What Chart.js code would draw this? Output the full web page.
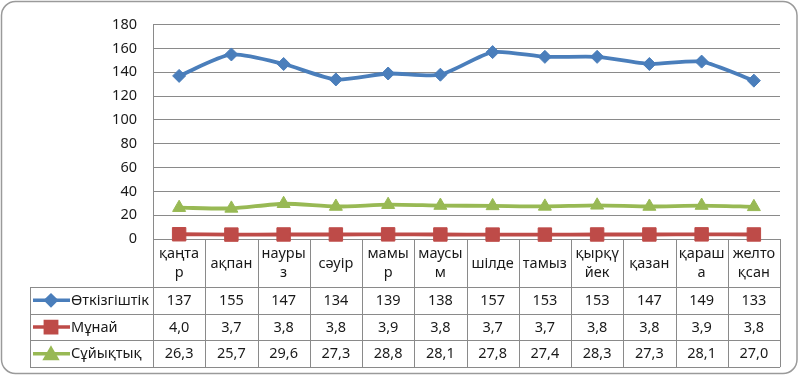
<!DOCTYPE html>
<html>
<head>
<meta charset="utf-8">
<script src="https://cdn.jsdelivr.net/npm/chart.js@4/dist/chart.umd.min.js"></script>
<style>
  html, body { margin: 0; padding: 0; background: #ffffff; }
  #wrap { width: 800px; height: 376px; position: relative; }
</style>
</head>
<body>
<div id="wrap"><canvas id="c" width="800" height="376"></canvas></div>
<script>
const categories = [['қаңта','р'], 'ақпан', ['науры','з'], 'сәуір', ['мамы','р'], ['маусы','м'], 'шілде', 'тамыз', ['қырқү','йек'], 'қазан', ['қараш','а'], ['желто','қсан']];
const seriesNames = ['Өткізгіштік', 'Мұнай', 'Сұйықтық'];
const conductivity = [137, 155, 147, 134, 139, 138, 157, 153, 153, 147, 149, 133];
const oil = [4.0, 3.7, 3.8, 3.8, 3.9, 3.8, 3.7, 3.7, 3.8, 3.8, 3.9, 3.8];
const liquid = [26.3, 25.7, 29.6, 27.3, 28.8, 28.1, 27.8, 27.4, 28.3, 27.3, 28.1, 27.0];
const yTicks = [0, 20, 40, 60, 80, 100, 120, 140, 160, 180];

const FONT = '"Noto Sans", "DejaVu Sans", sans-serif';
const GRID = '#8a8a8a';

function fmt(v, dec) { return dec ? v.toFixed(dec).replace('.', ',') : String(v); }

const tablePlugin = {
  id: 'dataTable',
  beforeDraw(chart) {
    const ctx = chart.ctx;
    ctx.save();
    ctx.fillStyle = '#ffffff';
    ctx.fillRect(0, 0, chart.width, chart.height);
    ctx.beginPath();
    ctx.roundRect(1.5, 1.5, 795.5, 372, 14);
    ctx.lineWidth = 1.5;
    ctx.strokeStyle = '#9a9a9a';
    ctx.stroke();
    ctx.restore();
  },
  beforeDatasetsDraw(chart) {
    const ctx = chart.ctx;
    const xs = chart.scales.x;
    const ca = chart.chartArea;
    const n = categories.length;
    const colW = (ca.right - ca.left) / n;
    const top = ca.bottom;
    const headH = 48;
    const rowH = 26.7;
    const legendLeft = 30;
    const bottom = top + headH + rowH * 3;
    ctx.save();
    ctx.strokeStyle = GRID;
    ctx.lineWidth = 1;
    for (let i = 0; i <= n; i++) {
      const x = Math.round(ca.left + i * colW) + 0.5;
      ctx.beginPath();
      ctx.moveTo(x, top);
      ctx.lineTo(x, bottom);
      ctx.stroke();
    }
    for (let r = 0; r <= 3; r++) {
      const y = Math.round(top + headH + r * rowH) + 0.5;
      ctx.beginPath();
      ctx.moveTo(legendLeft, y);
      ctx.lineTo(ca.right, y);
      ctx.stroke();
    }
    ctx.beginPath();
    ctx.moveTo(legendLeft + 0.5, Math.round(top + headH) + 0.5);
    ctx.lineTo(legendLeft + 0.5, Math.round(bottom) + 0.5);
    ctx.stroke();

    ctx.fillStyle = '#1a1a1a';
    ctx.textAlign = 'center';
    ctx.textBaseline = 'middle';
    ctx.font = '14.5px ' + FONT;
    categories.forEach((c, i) => {
      const cx = xs.getPixelForValue(i);
      if (Array.isArray(c)) {
        ctx.fillText(c[0], cx, top + 15);
        ctx.fillText(c[1], cx, top + 34);
      } else {
        ctx.fillText(c, cx, top + 25);
      }
    });
    chart.data.datasets.forEach((ds, r) => {
      const cy = top + headH + r * rowH + rowH / 2;
      ds.data.forEach((v, i) => {
        ctx.fillStyle = '#1a1a1a';
        ctx.textAlign = 'center';
        ctx.fillText(fmt(v, ds.decimals), xs.getPixelForValue(i), cy + 0.5);
      });
      ctx.strokeStyle = ds.borderColor;
      ctx.lineWidth = 3.5;
      ctx.beginPath();
      ctx.moveTo(33, cy);
      ctx.lineTo(70, cy);
      ctx.stroke();
      Chart.helpers.drawPoint(ctx, {
        pointStyle: ds.pointStyle,
        radius: ds.keyRadius,
        borderWidth: 1
      }, 51, cy + (ds.pointStyle === 'triangle' ? 1.5 : 0));
      ctx.fillStyle = ds.backgroundColor;
      ctx.strokeStyle = ds.borderColor;
      ctx.fill();
      ctx.fillStyle = '#1a1a1a';
      ctx.textAlign = 'left';
      ctx.fillText(ds.label, 71, cy + 0.5);
      ctx.strokeStyle = GRID;
    });
    ctx.restore();
  }
};

new Chart(document.getElementById('c'), {
  type: 'line',
  data: {
    labels: categories,
    datasets: [
      { label: seriesNames[0], data: conductivity, decimals: 0, borderColor: '#4a7ebb', backgroundColor: '#4a7ebb',
        pointStyle: 'rectRot', pointRadius: 6.5, keyRadius: 5, pointBackgroundColor: '#4a7ebb', pointBorderColor: '#4a7ebb' },
      { label: seriesNames[1], data: oil, decimals: 1, borderColor: '#be4b48', backgroundColor: '#be4b48',
        pointStyle: 'rect', pointRadius: 9.5, keyRadius: 8, pointBackgroundColor: '#be4b48', pointBorderColor: '#be4b48' },
      { label: seriesNames[2], data: liquid, decimals: 1, borderColor: '#98b954', backgroundColor: '#98b954',
        pointStyle: 'triangle', pointRadius: 7.5, keyRadius: 6.5, pointBackgroundColor: '#98b954', pointBorderColor: '#98b954' }
    ].map(d => Object.assign(d, { borderWidth: 3.8, tension: 0.22, pointBorderWidth: 1, pointHoverRadius: d.pointRadius, clip: false, fill: false }))
  },
  options: {
    responsive: false,
    animation: false,
    events: [],
    layout: { padding: { left: 0, right: 20, top: 19, bottom: 137 } },
    plugins: { legend: { display: false }, tooltip: { enabled: false } },
    scales: {
      x: { type: 'category', offset: true, display: false },
      y: {
        min: 0, max: 180,
        afterFit(s) { s.width = 153; },
        afterBuildTicks(s) { s.ticks = yTicks.map(v => ({ value: v })); },
        grid: { color: GRID, lineWidth: 1, drawTicks: false },
        border: { display: true, color: GRID, width: 1 },
        ticks: { padding: 16, color: '#1a1a1a', font: { family: FONT, size: 14.5 } }
      }
    }
  },
  plugins: [tablePlugin]
});
</script>
</body>
</html>
